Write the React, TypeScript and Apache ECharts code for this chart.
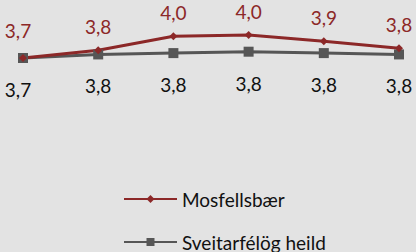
import React, { useEffect, useRef } from "react";
import * as echarts from "echarts";

const categories = ["1", "2", "3", "4", "5", "6"];
const mosfellsbaer = [3.7, 3.81, 4.01, 4.03, 3.94, 3.84];
const sveitarfelog = [3.7, 3.751, 3.77, 3.79, 3.77, 3.751];
const seriesNames = ["Mosfellsbær", "Sveitarfélög heild"];

const fmt = (v: number) => v.toFixed(1).replace(".", ",");

export default function App() {
  const ref = useRef<HTMLDivElement>(null);
  useEffect(() => {
    if (!ref.current) return;
    const chart = echarts.init(ref.current, null, { renderer: "svg" });
    const font = "Lato";
    const legendBase = {
      left: 123,
      padding: 0,
      itemWidth: 53,
      itemHeight: 10,
      textStyle: { fontFamily: font, fontSize: 19, color: "#111", lineHeight: 20 },
    };
    chart.setOption({
      animation: false,
      backgroundColor: "#e3e3e3",
      textStyle: { fontFamily: font },
      grid: { left: 23, right: 17, top: 9, height: 98 },
      xAxis: {
        type: "category",
        data: categories,
        boundaryGap: false,
        show: false,
      },
      yAxis: { type: "value", min: 3.0, max: 4.4, show: false },
      legend: [
        { ...legendBase, top: 189, data: [seriesNames[0]] },
        { ...legendBase, top: 232, data: [seriesNames[1]] },
      ],
      series: [
        {
          name: seriesNames[1],
          type: "line",
          data: sveitarfelog.map((v, i) => ({
            value: v,
            label: i === 0 ? { offset: [-5, 0] } : undefined,
          })),
          symbol: "rect",
          symbolSize: 10,
          lineStyle: { color: "#565656", width: 3 },
          itemStyle: { color: "#565656" },
          label: {
            show: true,
            position: "bottom",
            distance: 17,
            formatter: (p: any) => fmt(p.value),
            color: "#111",
            fontSize: 19,
            fontFamily: font,
          },
        },
        {
          name: seriesNames[0],
          type: "line",
          data: mosfellsbaer.map((v, i) => ({
            value: v,
            label: i === 0 ? { offset: [-5, -4] } : undefined,
          })),
          symbol: "diamond",
          symbolSize: 8,
          lineStyle: { color: "#8c2828", width: 3 },
          itemStyle: { color: "#8c2828" },
          label: {
            show: true,
            position: "top",
            distance: 10,
            lineHeight: 19,
            formatter: (p: any) => fmt(p.value),
            color: "#8c2828",
            fontSize: 19,
            fontFamily: font,
          },
        },
      ],
    });
    return () => chart.dispose();
  }, []);
  return (
    <div
      ref={ref}
      style={{ position: "fixed", left: 0, top: 0, width: 416, height: 252 }}
    />
  );
}
